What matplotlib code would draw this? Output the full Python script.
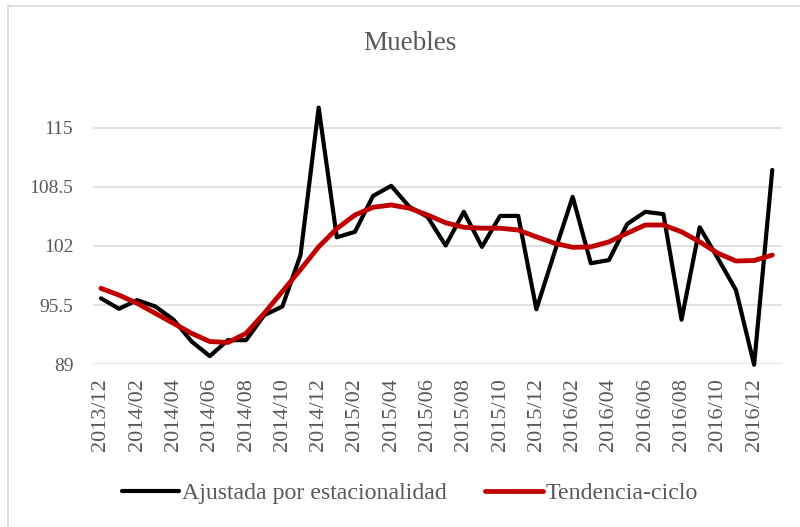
import matplotlib
matplotlib.use("Agg")
import matplotlib.pyplot as plt
from matplotlib.lines import Line2D

plt.rcParams["font.family"] = ["Liberation Serif", "DejaVu Serif"]

# monthly periods 2013/12 .. 2017/01
months = ["2013/12"] + [f"2014/{m:02d}" for m in range(1, 13)] \
    + [f"2015/{m:02d}" for m in range(1, 13)] \
    + [f"2016/{m:02d}" for m in range(1, 13)] + ["2017/01"]

ajustada = [96.25, 95.1, 96.05, 95.35, 93.9, 91.5, 89.9, 91.65, 91.65, 94.4,
            95.35, 101.0, 117.2, 102.95, 103.55, 107.5, 108.6, 106.3, 105.2, 102.05,
            105.75, 101.9, 105.3, 105.3, 95.05, 101.3, 107.4, 100.1, 100.45, 104.4,
            105.75, 105.5, 93.9, 104.05, 100.65, 97.15, 88.95, 110.35]
tendencia = [97.35, 96.6, 95.7, 94.6, 93.5, 92.4, 91.5, 91.4, 92.4, 94.6,
             97.0, 99.4, 101.9, 103.9, 105.4, 106.25, 106.5, 106.15, 105.4, 104.55,
             104.05, 103.95, 103.95, 103.75, 103.0, 102.3, 101.85, 101.9, 102.45, 103.4,
             104.3, 104.3, 103.55, 102.45, 101.2, 100.35, 100.4, 101.0]
yticks = [89, 95.5, 102, 108.5, 115]
ytick_labels = ["89", "95.5", "102", "108.5", "115"]

TXT = "#595959"
GRID = "#d9d9d9"
W, H = 800, 527

fig = plt.figure(figsize=(W / 100, H / 100), dpi=100)
ax = fig.add_axes([93.3 / W, 1 - 364.3 / H, 688.4 / W, 264 / H])

x = list(range(len(months)))
ax.plot(x, ajustada, color="black", lw=3.0, solid_joinstyle="round",
        solid_capstyle="round", label="Ajustada por estacionalidad", clip_on=False, zorder=3)
ax.plot(x, tendencia, color="#C00000", lw=3.5, solid_joinstyle="round",
        solid_capstyle="round", label="Tendencia-ciclo", clip_on=False, zorder=4)

ax.set_xlim(-0.42, 37.52)
ax.set_ylim(89, 118)
ax.set_yticks(yticks)
ax.set_yticklabels(ytick_labels)
ax.set_xticks(x[::2])
ax.set_xticklabels(months[::2], rotation=90)
ax.tick_params(axis="both", length=0, colors=TXT)
ax.tick_params(axis="y", pad=14.4, labelsize=14)
ax.tick_params(axis="x", pad=9.8, labelsize=16)
ax.grid(axis="y", color=GRID, lw=1.1)
ax.set_axisbelow(True)
for s in ax.spines.values():
    s.set_visible(False)

fig.text(410 / W, 1 - 43 / H, "Muebles", ha="center", va="center",
         fontsize=19.5, color=TXT)

fig.legend(loc="center", bbox_to_anchor=(410 / W, 1 - 493 / H), ncol=2, frameon=False,
           fontsize=17.2, labelcolor=TXT, handlelength=2.4, handletextpad=0.12,
           columnspacing=1.6)

# chart border (only left and top edges visible in the crop)
fig.add_artist(Line2D([7.5 / W, 7.5 / W], [0, 1 - 6 / H], color=GRID, lw=1.2))
fig.add_artist(Line2D([7.5 / W, 1], [1 - 6 / H, 1 - 6 / H], color=GRID, lw=1.2))

fig.savefig("out.png", dpi=100)
